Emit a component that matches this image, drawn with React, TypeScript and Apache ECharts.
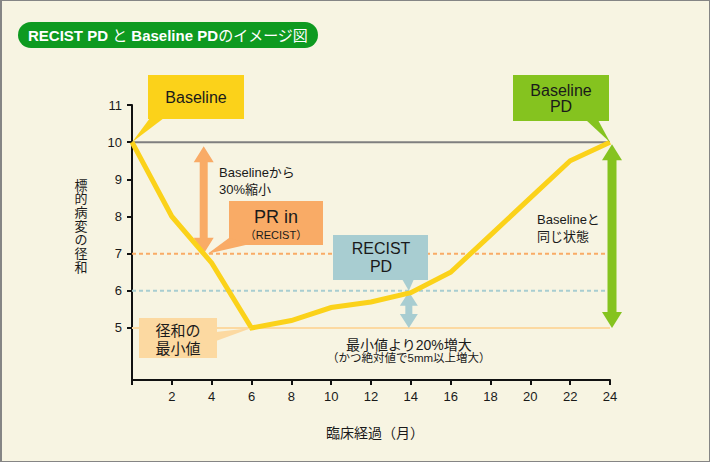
import React, { useEffect, useRef } from "react";
import * as echarts from "echarts";

// ---- data ----
const months = [0, 2, 4, 6, 8, 10, 12, 14, 16, 18, 20, 22, 24];
const sumOfDiameters = [10, 8, 6.75, 5, 5.2, 5.55, 5.7, 5.95, 6.5, 7.5, 8.5, 9.5, 10];
const yTickValues = [5, 6, 7, 8, 9, 10, 11];
const baselineValue = 10;
const prThreshold = 7;
const pdThreshold = 6;
const nadirValue = 5;
const prArrowMonth = 3.6;
const pdArrowMonth = 13.9;
const lastMonth = 24;
const yAxisName = "標的病変の径和";
const xAxisName = "臨床経過（月）";

const FONT = "'Liberation Sans', Arial, 'Noto Sans CJK JP', sans-serif";
const C = {
  bg: "#f7f4e2",
  title: "#0e9a20",
  yellow: "#fbd21a",
  orange: "#f9ab66",
  lightOrange: "#fcd9a1",
  blue: "#a8cdd1",
  green: "#85c31f",
  gray: "#7f7f7f",
  text: "#1a1a1a",
};

function hLine(y: number, color: string, dashed: boolean) {
  return {
    type: "line",
    data: [
      [0, y],
      [lastMonth, y],
    ],
    symbol: "none",
    silent: true,
    z: 1,
    lineStyle: { color, width: 2, type: dashed ? [4, 3] : "solid" },
  };
}

function dblArrow(x: number, yTop: number, yBot: number, headW: number, headL: number, shaftW: number) {
  return [
    [x, yTop],
    [x + headW / 2, yTop + headL],
    [x + shaftW / 2, yTop + headL],
    [x + shaftW / 2, yBot - headL],
    [x + headW / 2, yBot - headL],
    [x, yBot],
    [x - headW / 2, yBot - headL],
    [x - shaftW / 2, yBot - headL],
    [x - shaftW / 2, yTop + headL],
    [x - headW / 2, yTop + headL],
  ];
}

function txt(x: number, y: number, text: string, size: number, opts: any = {}) {
  return {
    type: "text",
    x,
    y,
    z: 10,
    style: {
      text,
      fontSize: size,
      fontFamily: FONT,
      fill: C.text,
      textAlign: opts.align || "center",
      textVerticalAlign: "middle",
      fontWeight: opts.weight || "normal",
      ...(opts.style || {}),
    },
  };
}

function box(x: number, y: number, w: number, h: number, fill: string) {
  return { type: "rect", z: 8, shape: { x, y, width: w, height: h }, style: { fill } };
}

function tri(points: number[][], fill: string) {
  return { type: "polygon", z: 8, shape: { points }, style: { fill } };
}

export default function App() {
  const ref = useRef<HTMLDivElement>(null);
  useEffect(() => {
    document.body.style.margin = "0";
    const chart = echarts.init(ref.current!, null, { renderer: "svg" });
    chart.setOption({
      animation: false,
      backgroundColor: C.bg,
      grid: { left: 132, right: 100, top: 105, bottom: 82, containLabel: false },
      xAxis: {
        type: "value",
        min: 0,
        max: 24,
        interval: 2,
        axisLine: { lineStyle: { color: "#111", width: 2 } },
        axisTick: { length: 5, lineStyle: { color: "#111", width: 2 } },
        axisLabel: {
          color: C.text,
          fontSize: 13,
          fontFamily: FONT,
          margin: 10,
          formatter: (v: number) => (v === 0 ? "" : String(v)),
        },
        splitLine: { show: false },
      },
      yAxis: {
        type: "value",
        min: 3.6,
        max: 11,
        axisLine: { show: true, lineStyle: { color: "#111", width: 2 } },
        axisTick: { show: true, length: 5, customValues: yTickValues, lineStyle: { color: "#111", width: 2 } },
        axisLabel: { color: C.text, fontSize: 13, fontFamily: FONT, margin: 10, customValues: yTickValues },
        splitLine: { show: false },
      },
      series: [
        hLine(baselineValue, C.gray, false),
        hLine(prThreshold, C.orange, true),
        hLine(pdThreshold, C.blue, true),
        hLine(nadirValue, C.lightOrange, false),
        {
          type: "line",
          data: months.map((m, i) => [m, sumOfDiameters[i]]),
          symbol: "none",
          z: 5,
          lineStyle: { color: C.yellow, width: 5, join: "miter", cap: "butt" },
        },
      ],
    });

    const px = (x: number, y: number) => chart.convertToPixel({ gridIndex: 0 }, [x, y]) as number[];
    const base0 = px(0, baselineValue);
    const prTop = px(prArrowMonth, baselineValue);
    const prBot = px(prArrowMonth, prThreshold);
    const nadir = px(6, nadirValue);
    const pdTop = px(pdArrowMonth, pdThreshold);
    const pdBot = px(pdArrowMonth, nadirValue);
    const gTop = px(lastMonth, baselineValue);
    const gBot = px(lastMonth, nadirValue);

    const yNameChars = Array.from(yAxisName).map((ch, i) => txt(81, 185 + i * 13.7, ch, 13));

    const elements: any[] = [
      // frame
      { type: "rect", z: 20, shape: { x: 0, y: 0, width: 710, height: 462 }, style: { fill: "none", stroke: "#858585", lineWidth: 2 } },
      { type: "line", z: 20, shape: { x1: 1.5, y1: 0, x2: 1.5, y2: 462 }, style: { stroke: "#858585", lineWidth: 1 } },
      // title
      { type: "rect", z: 8, shape: { x: 18, y: 22, width: 300, height: 26, r: 13 }, style: { fill: C.title } },
      {
        type: "text",
        x: 168,
        y: 35.5,
        z: 10,
        style: {
          text: "{b|RECIST PD }{j|と}{b| Baseline PD}{j|のイメージ図}",
          textAlign: "center",
          textVerticalAlign: "middle",
          rich: {
            b: { fontSize: 15, fontWeight: "bold", fontFamily: FONT, fill: "#ffffff" },
            j: { fontSize: 15, fontWeight: "normal", fontFamily: FONT, fill: "#ffffff" },
          },
        },
      },
      // axis names
      ...yNameChars,
      txt(375, 433, xAxisName, 14),
      // Baseline callout
      box(148, 75, 96, 44, C.yellow),
      tri([[150, 118], [164, 118], base0], C.yellow),
      txt(196, 97.5, "Baseline", 16),
      // PR arrow & callout
      { type: "polygon", z: 3, shape: { points: dblArrow(prTop[0], prTop[1] + 4, prBot[1], 20, 16, 8) }, style: { fill: C.orange } },
      txt(219, 172.5, "Baselineから", 13, { align: "left" }),
      txt(219, 189.5, "30%縮小", 13, { align: "left" }),
      box(229, 201, 94, 44, C.orange),
      tri([[229, 238], [250, 244], [prBot[0] + 4, prBot[1]]], C.orange),
      txt(276, 217, "PR in", 18),
      txt(276, 235, "（RECIST）", 11),
      // nadir callout
      box(139, 318, 78, 40, C.lightOrange),
      tri([[216, 332], [216, 341], nadir], C.lightOrange),
      txt(178, 330, "径和の", 15),
      txt(178, 348, "最小値", 15),
      // RECIST PD callout & arrow
      box(333, 235, 95, 45, C.blue),
      tri([[402, 279], [414, 279], pdTop], C.blue),
      txt(381, 248.5, "RECIST", 16),
      txt(381, 266, "PD", 16),
      { type: "polygon", z: 3, shape: { points: dblArrow(pdTop[0], pdTop[1] + 1, pdBot[1], 18, 14, 7) }, style: { fill: C.blue } },
      txt(pdTop[0], 345, "最小値より20%増大", 14),
      txt(pdTop[0], 358, "（かつ絶対値で5mm以上増大）", 11.5),
      // Baseline PD callout & arrow
      box(513, 75, 96, 46, C.green),
      tri([[586, 120], [598, 120], gTop], C.green),
      txt(561, 90.5, "Baseline", 16),
      txt(561, 106, "PD", 16),
      { type: "polygon", z: 3, shape: { points: dblArrow(gTop[0] + 2, gTop[1] + 2, gBot[1], 20, 16, 9) }, style: { fill: C.green } },
      txt(537, 219, "Baselineと", 13, { align: "left" }),
      txt(537, 236, "同じ状態", 13, { align: "left" }),
    ];
    chart.setOption({ graphic: { elements } });
    return () => chart.dispose();
  }, []);
  return <div ref={ref} style={{ width: 710, height: 462 }} />;
}
